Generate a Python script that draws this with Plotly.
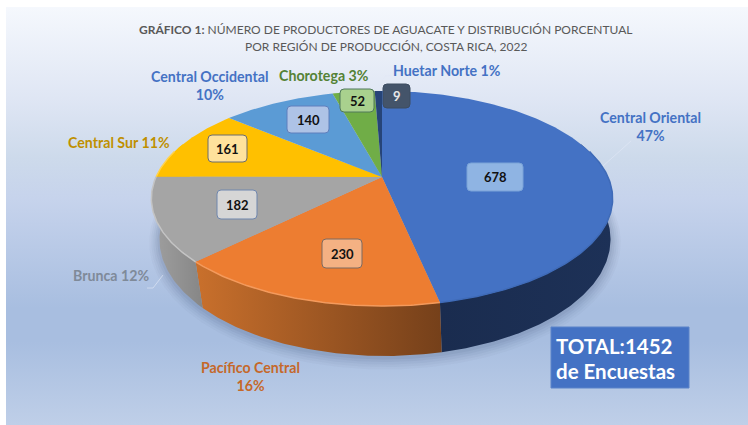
import math
import plotly.graph_objects as go

# ---------- data ----------
regions = ["Central Oriental", "Pacífico Central", "Brunca", "Central Sur",
           "Central Occidental", "Chorotega", "Huetar Norte"]
producers = [678, 230, 182, 161, 140, 52, 9]
percent_labels = ["47%", "16%", "12%", "11%", "10%", "3%", "1%"]
total_text = ["TOTAL:1452", "de Encuestas"]
title_bold = "GRÁFICO 1:"
title_line1 = " NÚMERO DE PRODUCTORES DE AGUACATE Y DISTRIBUCIÓN PORCENTUAL"
title_line2 = "POR REGIÓN DE PRODUCCIÓN, COSTA RICA, 2022"

# ---------- style ----------
top_colors = ["#4472c4", "#ed7d31", "#a5a5a5", "#ffc000", "#5b9bd5", "#70ad47", "#264478"]
rim_colors = ["#3f6bb8", "#f49a5c", "#c4c4c4", "#ffd24d", "#6ba6dc", "#86bd5e", "#35558f"]
side_gradients = [
    [(0, "#1a2c4f"), (1, "#1d3157")],
    [(0, "#c9702c"), (0.45, "#a35a24"), (1, "#75401a")],
    [(0, "#a0a0a0"), (1, "#868686")],
    [(0, "#ffc000"), (1, "#ffc000")],
    [(0, "#5b9bd5"), (1, "#5b9bd5")],
    [(0, "#70ad47"), (1, "#70ad47")],
    [(0, "#264478"), (1, "#264478")],
]
label_colors = ["#4472c4", "#c5682a", "#7f8a99", "#bf9000", "#4472c4", "#548235", "#4472c4"]
bg_stops = [(0, "#f5f8fd"), (0.22, "#dfe6f4"), (0.36, "#cddaeb"), (0.46, "#c6d3ec"),
            (0.72, "#a8bee0"), (0.8, "#a8bee0"), (1, "#bfcfe8")]

W, H = 748, 425
TOP = dict(cx=382, R=226, S=103.2, cy=177)
BOT = dict(cx=385, R=221, S=112, cy=216)
K = 0.2


def project(deg, disc):
    a = math.radians(deg)
    u, v = math.sin(a), -math.cos(a)
    d = 1 - K * v
    return disc["cx"] + disc["R"] * u / d, disc["cy"] + disc["S"] * v / d


def arc(a0, a1, disc):
    n = max(2, int(abs(a1 - a0) * 1.5))
    pts = [project(a0 + (a1 - a0) * i / n, disc) for i in range(n + 1)]
    return [p[0] for p in pts], [p[1] for p in pts]


total = sum(producers)
edges = [0.0]
for val in producers:
    edges.append(edges[-1] + val / total * 360)

fig = go.Figure()

# background panel
fig.add_trace(go.Scatter(
    x=[6, W, W, 6, 6], y=[7, 7, H, H, 7], mode="lines", line=dict(width=0),
    fill="toself",
    fillgradient=dict(type="vertical", start=7, stop=H, colorscale=[[s, c] for s, c in bg_stops]),
    hoverinfo="skip", showlegend=False))

# soft shadow
for grow, alpha in [(10, .03), (8, .04), (6, .05), (4, .06), (2, .07)]:
    sd = dict(cx=BOT["cx"], R=BOT["R"] + grow, S=BOT["S"] + grow, cy=BOT["cy"] + 1)
    xs, ys = arc(60, 300, sd)
    fig.add_trace(go.Scatter(x=xs, y=ys, mode="lines", line=dict(width=0), fill="toself",
                             fillcolor=f"rgba(50,70,110,{alpha})", hoverinfo="skip", showlegend=False))

# sides, only the slices facing the viewer
for i in range(len(producers)):
    a0, a1 = max(edges[i], 70), min(edges[i + 1], 290)
    if a1 <= a0:
        continue
    xt, yt = arc(a0, a1, TOP)
    xb, yb = arc(a0, a1, BOT)
    fig.add_trace(go.Scatter(
        x=xt + xb[::-1] + xt[:1], y=yt + yb[::-1] + yt[:1], mode="lines", line=dict(width=0),
        fill="toself",
        fillgradient=dict(type="horizontal",
                          colorscale=[[s, c] for s, c in side_gradients[i]]),
        hoverinfo="skip", showlegend=False))

# top face
for i in range(len(producers)):
    xs, ys = arc(edges[i], edges[i + 1], TOP)
    fig.add_trace(go.Scatter(
        x=[TOP["cx"]] + xs + [TOP["cx"]], y=[TOP["cy"]] + ys + [TOP["cy"]], mode="lines",
        line=dict(width=0), fill="toself", fillcolor=top_colors[i],
        name=regions[i], hovertemplate="%{fullData.name}<extra></extra>", showlegend=False))
for i in range(len(producers)):
    a0, a1 = max(edges[i], 75), min(edges[i + 1], 285)
    if a1 > a0:
        xs, ys = arc(a0, a1, TOP)
        fig.add_trace(go.Scatter(x=xs, y=ys, mode="lines", line=dict(width=1.5, color=rim_colors[i]),
                                 hoverinfo="skip", showlegend=False))

# leader lines
leaders = [
    ([603, 631], [166, 141]),
    ([147, 153, 163], [288, 288, 275]),
    ([378, 385, 391], [88, 76, 76]),
]
for lx, ly in leaders:
    fig.add_trace(go.Scatter(x=lx, y=ly, mode="lines", line=dict(width=0.8, color="rgba(225,232,245,.8)"),
                             hoverinfo="skip", showlegend=False))

# value boxes (left, right, top, bottom, fill, border, text colour)
boxes = [
    (467, 523, 163, 191, "#8fb4e3", "#7aa3d8", "#111111"),
    (322, 362, 239, 268, "#f4b183", "#7d6a60", "#111111"),
    (217, 257, 190, 219, "#d6d6d6", "#6f86ad", "#111111"),
    (208, 247, 135, 162, "#ffe29c", "#6c6c6c", "#111111"),
    (287, 329, 106, 133, "#aec3e6", "#5f7fbd", "#111111"),
    (340, 374, 89, 112, "#a9d18e", "#50795a", "#111111"),
    (383, 410, 84, 108, "#44546a", "#3d4c61", "#e8e8e8"),
]
shapes = []
annos = []
for (x0, x1, y0, y1, fill, border, tc), val in zip(boxes, producers):
    r = 4
    path = (f"M{x0+r},{y0} L{x1-r},{y0} Q{x1},{y0} {x1},{y0+r} L{x1},{y1-r} Q{x1},{y1} {x1-r},{y1} "
            f"L{x0+r},{y1} Q{x0},{y1} {x0},{y1-r} L{x0},{y0+r} Q{x0},{y0} {x0+r},{y0} Z")
    shapes.append(dict(type="path", path=path, fillcolor=fill, line=dict(color=border, width=1),
                       xref="x", yref="y", layer="above"))
    annos.append(dict(x=(x0 + x1) / 2, y=(y0 + y1) / 2, text=f"<b>{val}</b>", showarrow=False,
                      font=dict(family="Lato", size=13, color=tc)))

# total box
shapes.append(dict(type="rect", x0=551, x1=689, y0=327, y1=388, fillcolor="#4472c4",
                   line=dict(color="#5b83c9", width=1), xref="x", yref="y", layer="above"))
for txt, yy in zip(total_text, [346, 371]):
    annos.append(dict(x=554, y=yy, text=f"<b>{txt}</b>", showarrow=False, xanchor="left",
                      font=dict(family="Lato", size=20.5, color="#ffffff")))

# category labels: (x, y, broken over two lines?)
label_pos = [(650.5, 126, True), (250, 376, True), (110.5, 275, False), (119, 142, False),
             (209.5, 85, True), (323.5, 75, False), (447, 70, False)]
for i, (lx, ly, two) in enumerate(label_pos):
    sep = "<br>" if two else " "
    annos.append(dict(x=lx, y=ly, text=f"<b>{regions[i]}{sep}{percent_labels[i]}</b>", showarrow=False,
                      align="center", font=dict(family="Lato", size=14.2, color=label_colors[i])))

# title, two lines
annos.append(dict(x=385.5, y=29, showarrow=False, text=f"<b>{title_bold}</b>{title_line1}",
                  font=dict(family="Lato", size=12, color="#595959")))
annos.append(dict(x=385.5, y=46, showarrow=False, text=title_line2,
                  font=dict(family="Lato", size=12, color="#595959")))

fig.update_layout(
    width=W, height=H, margin=dict(l=0, r=0, t=0, b=0), paper_bgcolor="#ffffff", plot_bgcolor="#ffffff",
    xaxis=dict(range=[0, W], visible=False, fixedrange=True),
    yaxis=dict(range=[H, 0], visible=False, fixedrange=True),
    shapes=shapes, annotations=annos, showlegend=False,
)
fig.write_html("out.html", config={"displayModeBar": False},
               post_script="document.body.style.margin='0';document.body.style.overflow='hidden';")
